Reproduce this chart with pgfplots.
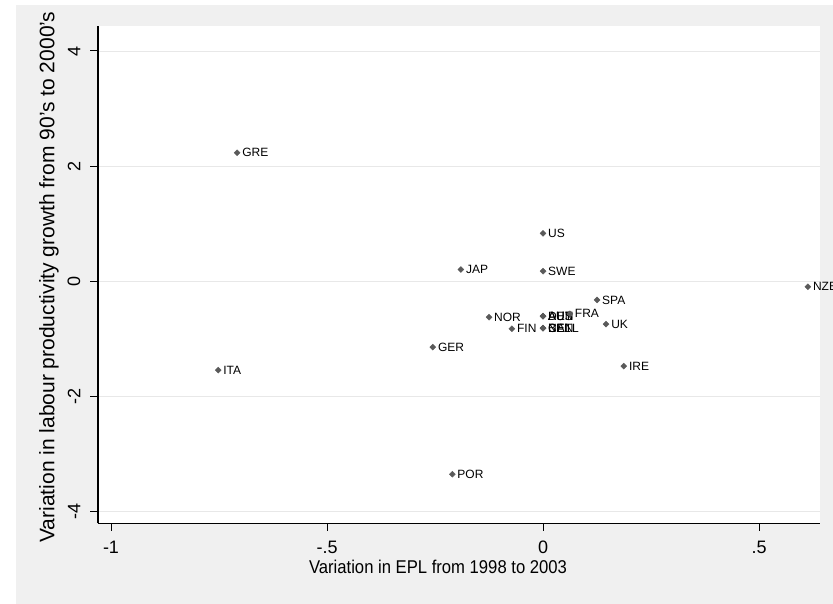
\documentclass[border=0pt]{standalone}
\usepackage{fontspec}
\setmainfont{Liberation Sans}
\newfontfamily\narrowfont[FakeStretch=0.9]{Liberation Sans}
\usepackage{pgfplots}
\usepackage{pgfplotstable}
\pgfplotsset{compat=1.18}
\definecolor{bg}{RGB}{240,240,240}
\definecolor{gridc}{RGB}{232,232,232}
\definecolor{mk}{RGB}{90,90,90}

\pgfplotstableread{
x y label
-0.708 2.23 GRE
-0.752 -1.55 ITA
-0.19 0.20 JAP
0 0.83 US
0 0.17 SWE
0.125 -0.33 SPA
0.613 -0.10 NZE
-0.125 -0.63 NOR
0 -0.61 AUS
0 -0.61 DEN
0 -0.61 AUT
0.062 -0.57 FRA
0.146 -0.75 UK
-0.072 -0.83 FIN
0 -0.82 CAN
0 -0.82 BEL
0 -0.82 NETL
-0.255 -1.15 GER
0.187 -1.48 IRE
-0.21 -3.36 POR
}\pts

\begin{document}
\begin{tikzpicture}[x=1bp,y=1bp]
\useasboundingbox (0,0) rectangle (833,604);
\clip (0,0) rectangle (833,604);
\fill[white] (0,0) rectangle (833,604);
\fill[bg] (16,0) rectangle (833,599);
\begin{axis}[
  at={(98bp,80.5bp)}, anchor=south west,
  scale only axis, width=722bp, height=497.5bp,
  xmin=-1.0301, xmax=0.6412, ymin=-4.217, ymax=4.435,
  axis x line*=bottom, axis y line*=left,
  axis line style={black, line width=1.1bp},
  axis background/.style={fill=white},
  xtick={-1,-0.5,0,0.5}, xticklabels={-1,-.5,0,.5},
  ytick={-4,-2,0,2,4}, yticklabels={-4,-2,0,2,4},
  tick align=outside, major tick length=7.5bp,
  tick style={black, line width=1bp},
  ymajorgrids, grid style={gridc, line width=0.9bp},
  xticklabel style={font=\fontsize{18bp}{20bp}\selectfont, inner sep=0pt, yshift=-10bp},
  yticklabel style={font=\fontsize{18bp}{20bp}\selectfont, rotate=90, anchor=south, inner sep=0pt, yshift=10bp},
  clip=false,
]
\addplot[only marks, mark=square*, mark size=2.1bp, mark options={rotate=45}, mk,
  nodes near coords, point meta=explicit symbolic,
  every node near coord/.style={anchor=west, text=black, inner sep=0pt, xshift=5bp, yshift=0bp,
    font=\fontsize{12bp}{13bp}\selectfont}]
  table[x=x, y=y, meta=label] {\pts};
\end{axis}
\node[font=\fontsize{18.5bp}{20bp}\narrowfont] at (438,37) {Variation in EPL from 1998 to 2003};
\node[font=\fontsize{21bp}{23bp}\selectfont, rotate=90] at (49,327) {Variation in labour productivity growth from 90's to 2000's};
\end{tikzpicture}
\end{document}
